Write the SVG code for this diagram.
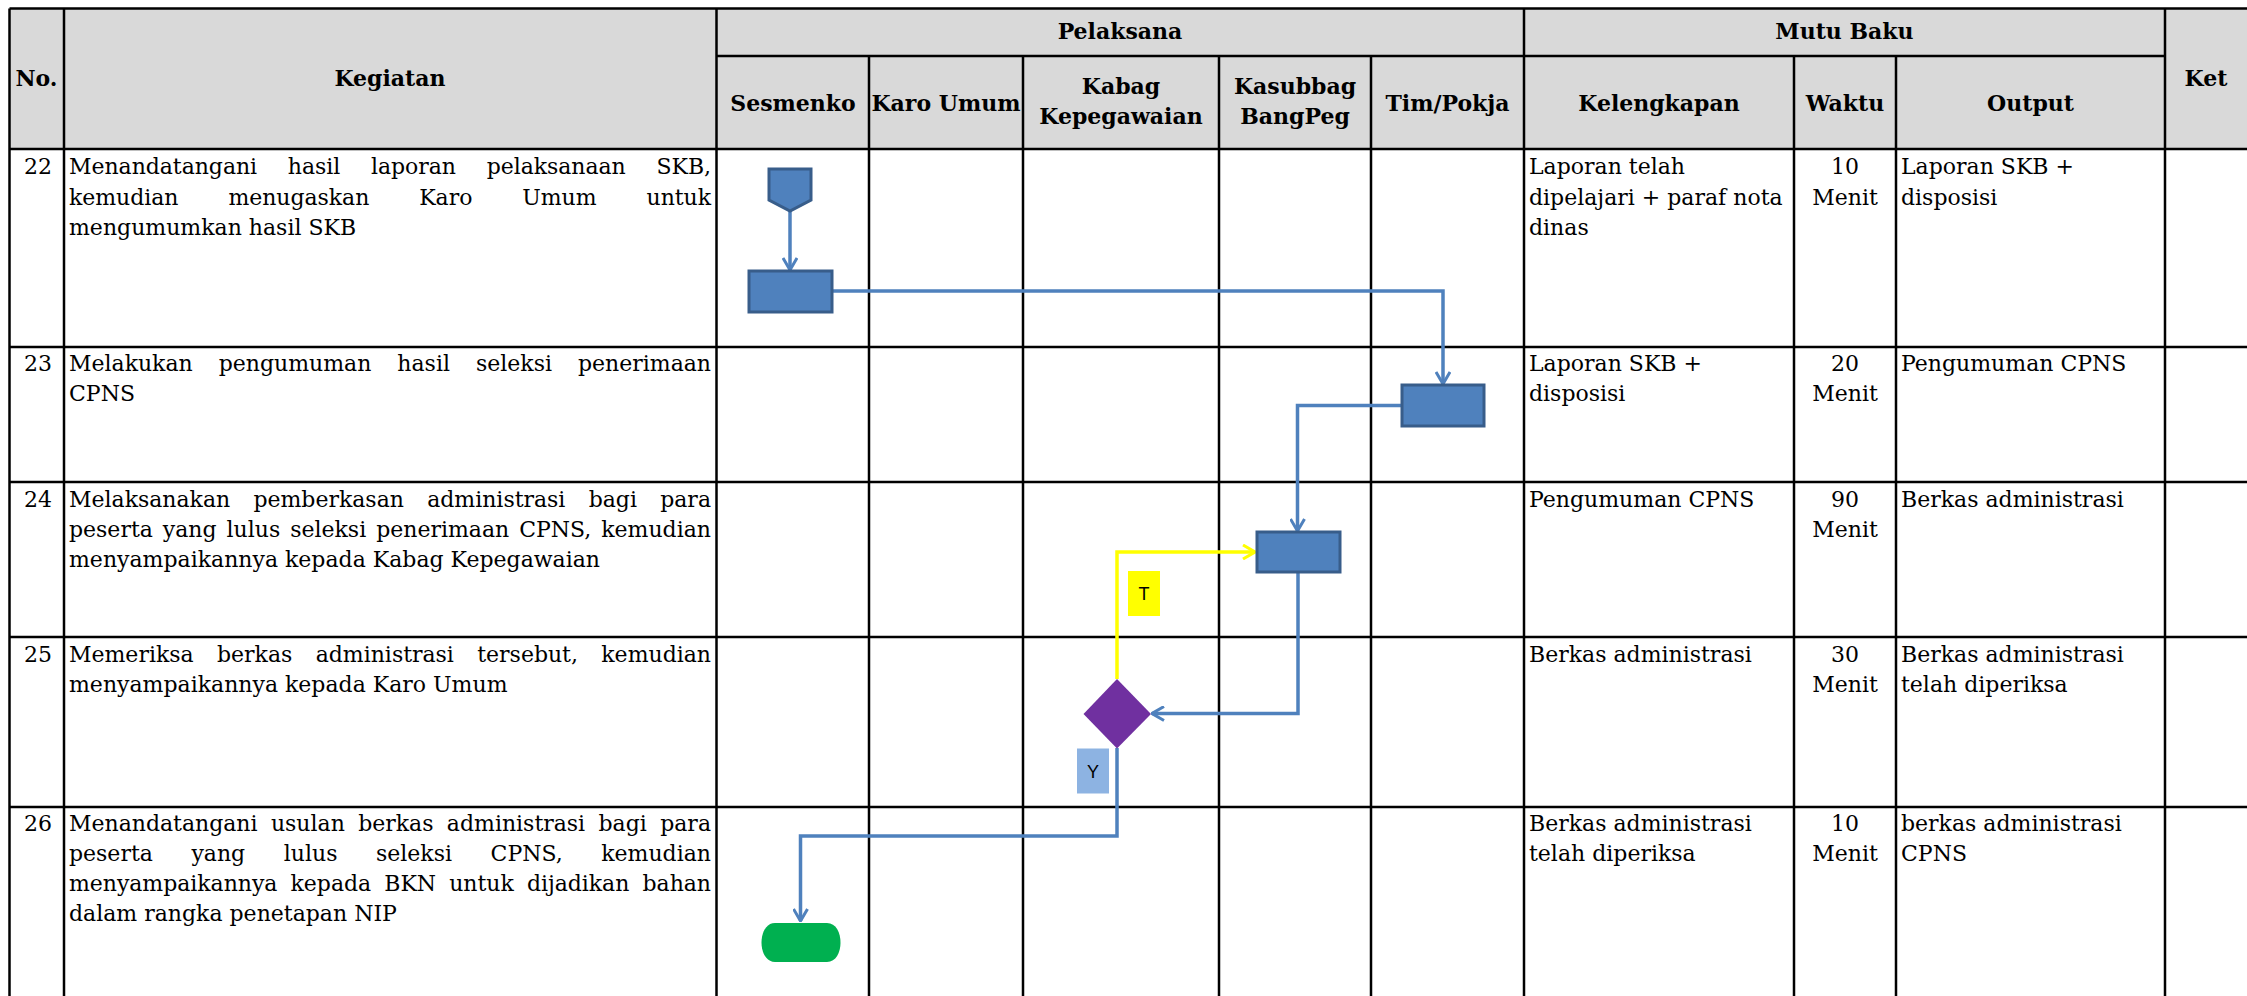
<svg xmlns="http://www.w3.org/2000/svg" width="2247" height="996" viewBox="0 0 2247 996">
<style>
.grid{stroke:#000;stroke-width:2.5;fill:none}
.h{font-family:"DejaVu Serif",serif;font-weight:bold;font-size:22px;fill:#000;text-anchor:middle}
.b{font-family:"DejaVu Serif",serif;font-size:22px;fill:#000}
.c{text-anchor:middle}
.proc{fill:#4F81BD;stroke:#385D8A;stroke-width:3}
.con{fill:none;stroke:#4F81BD;stroke-width:3.5;marker-end:url(#ab)}
.cony{fill:none;stroke:#FFFF00;stroke-width:3.5;marker-end:url(#ay)}
.lbl{font-family:"Liberation Sans",Arial,sans-serif;font-size:18px;fill:#000;text-anchor:middle}
</style>
<defs>
<marker id="ab" viewBox="0 0 16 16" refX="15" refY="8" markerWidth="16" markerHeight="16" markerUnits="userSpaceOnUse" orient="auto"><path d="M3,1 L15,8 L3,15" fill="none" stroke="#4F81BD" stroke-width="3"/></marker>
<marker id="ay" viewBox="0 0 16 16" refX="15" refY="8" markerWidth="16" markerHeight="16" markerUnits="userSpaceOnUse" orient="auto"><path d="M3,1 L15,8 L3,15" fill="none" stroke="#FFFF00" stroke-width="3"/></marker>
</defs>
<rect width="2247" height="996" fill="#fff"/>
<g id="table">
<rect x="9.5" y="8.5" width="2240" height="140.5" fill="#D9D9D9"/>
<path class="grid" d="M9.5,8.5 H2250 M716.5,56 H2165 M9.5,149 H2250 M9.5,347 H2250 M9.5,482 H2250 M9.5,637 H2250 M9.5,807 H2250 M9.5,8.5 V996 M64,8.5 V996 M716.5,8.5 V996 M869,56 V996 M1023,56 V996 M1219,56 V996 M1371,56 V996 M1524,8.5 V996 M1794,56 V996 M1896,56 V996 M2165,8.5 V996"/>
<text class="h" x="36.5" y="86">No.</text>
<text class="h" x="390" y="86">Kegiatan</text>
<text class="h" x="1120" y="39">Pelaksana</text>
<text class="h" x="1844.5" y="39">Mutu Baku</text>
<text class="h" x="2206" y="86">Ket</text>
<text class="h" x="793" y="111">Sesmenko</text>
<text class="h" x="946" y="111">Karo Umum</text>
<text class="h" x="1121" y="94">Kabag</text>
<text class="h" x="1121" y="124">Kepegawaian</text>
<text class="h" x="1295" y="94">Kasubbag</text>
<text class="h" x="1295" y="124">BangPeg</text>
<text class="h" x="1447.5" y="111">Tim/Pokja</text>
<text class="h" x="1659" y="111">Kelengkapan</text>
<text class="h" x="1845" y="111">Waktu</text>
<text class="h" x="2030.5" y="111">Output</text>
</g>
<g id="row22">
<text class="b c" x="38" y="174">22</text>
<text class="b" x="69" y="174" word-spacing="23.8" textLength="642" lengthAdjust="spacing">Menandatangani hasil laporan pelaksanaan SKB,</text>
<text class="b" x="69" y="204.5" word-spacing="43" textLength="642" lengthAdjust="spacing">kemudian menugaskan Karo Umum untuk</text>
<text class="b" x="69" y="235">mengumumkan hasil SKB</text>
<text class="b" x="1529" y="174">Laporan telah</text>
<text class="b" x="1529" y="204.5">dipelajari + paraf nota</text>
<text class="b" x="1529" y="235">dinas</text>
<text class="b c" x="1845" y="174">10</text>
<text class="b c" x="1845" y="204.5">Menit</text>
<text class="b" x="1901" y="174">Laporan SKB +</text>
<text class="b" x="1901" y="204.5">disposisi</text>
</g>
<g id="row23">
<text class="b c" x="38" y="371">23</text>
<text class="b" x="69" y="371" word-spacing="19.1" textLength="642" lengthAdjust="spacing">Melakukan pengumuman hasil seleksi penerimaan</text>
<text class="b" x="69" y="401">CPNS</text>
<text class="b" x="1529" y="371">Laporan SKB +</text>
<text class="b" x="1529" y="401">disposisi</text>
<text class="b c" x="1845" y="371">20</text>
<text class="b c" x="1845" y="401">Menit</text>
<text class="b" x="1901" y="371">Pengumuman CPNS</text>
</g>
<g id="row24">
<text class="b c" x="38" y="507">24</text>
<text class="b" x="69" y="507" word-spacing="16.3" textLength="642" lengthAdjust="spacing">Melaksanakan pemberkasan administrasi bagi para</text>
<text class="b" x="69" y="537" word-spacing="3" textLength="642" lengthAdjust="spacing">peserta yang lulus seleksi penerimaan CPNS, kemudian</text>
<text class="b" x="69" y="567">menyampaikannya kepada Kabag Kepegawaian</text>
<text class="b" x="1529" y="507">Pengumuman CPNS</text>
<text class="b c" x="1845" y="507">90</text>
<text class="b c" x="1845" y="537">Menit</text>
<text class="b" x="1901" y="507">Berkas administrasi</text>
</g>
<g id="row25">
<text class="b c" x="38" y="662">25</text>
<text class="b" x="69" y="662" word-spacing="16.4" textLength="642" lengthAdjust="spacing">Memeriksa berkas administrasi tersebut, kemudian</text>
<text class="b" x="69" y="692">menyampaikannya kepada Karo Umum</text>
<text class="b" x="1529" y="662">Berkas administrasi</text>
<text class="b c" x="1845" y="662">30</text>
<text class="b c" x="1845" y="692">Menit</text>
<text class="b" x="1901" y="662">Berkas administrasi</text>
<text class="b" x="1901" y="692">telah diperiksa</text>
</g>
<g id="row26">
<text class="b c" x="38" y="831">26</text>
<text class="b" x="69" y="831" word-spacing="6.4" textLength="642" lengthAdjust="spacing">Menandatangani usulan berkas administrasi bagi para</text>
<text class="b" x="69" y="861" word-spacing="31.6" textLength="642" lengthAdjust="spacing">peserta yang lulus seleksi CPNS, kemudian</text>
<text class="b" x="69" y="891" word-spacing="6.3" textLength="642" lengthAdjust="spacing">menyampaikannya kepada BKN untuk dijadikan bahan</text>
<text class="b" x="69" y="921">dalam rangka penetapan NIP</text>
<text class="b" x="1529" y="831">Berkas administrasi</text>
<text class="b" x="1529" y="861">telah diperiksa</text>
<text class="b c" x="1845" y="831">10</text>
<text class="b c" x="1845" y="861">Menit</text>
<text class="b" x="1901" y="831">berkas administrasi</text>
<text class="b" x="1901" y="861">CPNS</text>
</g>
<g id="connectors">
<path class="con" d="M790,211 V270"/>
<path class="con" d="M832,291 H1443 V384"/>
<path class="con" d="M1402,405.5 H1297.5 V531"/>
<path class="con" d="M1298,572 V713.5 H1152"/>
<path class="cony" d="M1117,679 V552 H1255"/>
<path class="con" d="M1117,748 V836 H800.5 V921"/>
</g>
<g id="start"><path class="proc" d="M769,169 H811 V200 L790,211 L769,200 Z"/></g>
<g id="p22"><rect class="proc" x="749" y="271" width="83" height="41"/></g>
<g id="p23"><rect class="proc" x="1402" y="385" width="82" height="41"/></g>
<g id="p24"><rect class="proc" x="1257" y="532" width="83" height="40"/></g>
<g id="d25"><path d="M1117,679 L1151,714 L1117,748.5 L1083.5,714 Z" fill="#7030A0"/></g>
<g id="labelT"><rect x="1128" y="571" width="32" height="45" fill="#FFFF00"/><text class="lbl" x="1144" y="600">T</text></g>
<g id="labelY"><rect x="1077" y="748.5" width="32" height="45" fill="#8DB3E2"/><text class="lbl" x="1093" y="778">Y</text></g>
<g id="end"><path d="M775,923 H827 C845,923 845,962 827,962 H775 C757,962 757,923 775,923 Z" fill="#00B050"/></g>
</svg>
